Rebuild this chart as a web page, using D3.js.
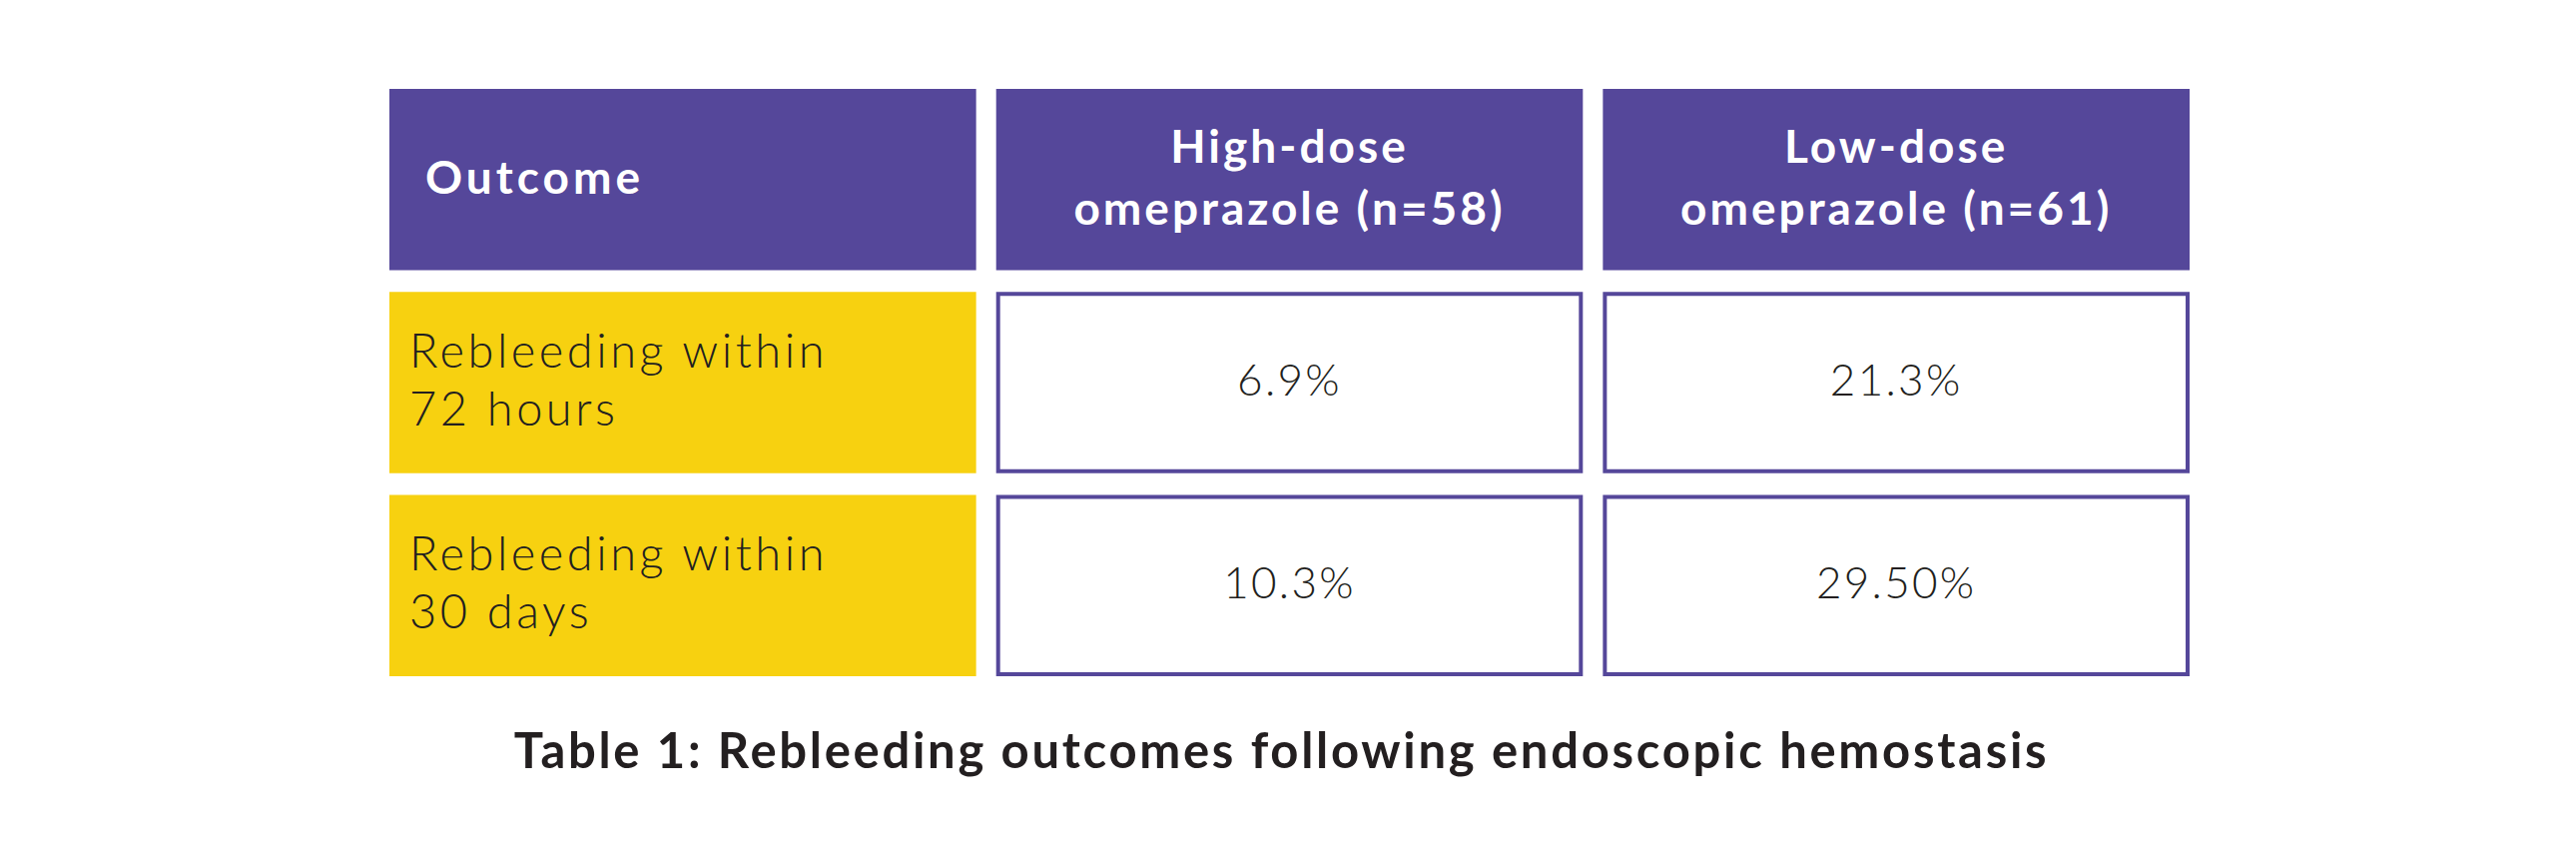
<!DOCTYPE html>
<html>
<head>
<meta charset="utf-8">
<script src="https://cdn.jsdelivr.net/npm/d3@7"></script>
<style>
  html, body { margin: 0; padding: 0; background: #fff; }
  svg { display: block; }
</style>
</head>
<body>
<script>
// Table content
let columns = ["Outcome", "High-dose\nomeprazole (n=58)", "Low-dose\nomeprazole (n=61)"];
let rowLabels = ["Rebleeding within\n72 hours", "Rebleeding within\n30 days"];
let highDose = ["6.9%", "10.3%"];
let lowDose = ["21.3%", "29.50%"];
let caption = "Table 1: Rebleeding outcomes following endoscopic hemostasis";

let W = 2580, H = 869;
let purple = "#55479a", yellow = "#f7d110", ink = "#231f20";
let font = "Lato, 'Noto Sans', sans-serif";

let svg = d3.select("body").append("svg")
  .attr("width", W)
  .attr("height", H);

// Column and row bands
let x = d3.scaleBand()
  .domain(d3.range(columns.length))
  .range([390, 2193])
  .paddingInner(0.033);

let rows = ["header"].concat(rowLabels.map((d, i) => "r" + i));
let y = d3.scaleBand()
  .domain(rows)
  .range([89, 677])
  .paddingInner(0.107);

// helper for multi-line text
function lines(sel, txt, lh) {
  let parts = txt.split("\n");
  sel.selectAll("tspan").data(parts).enter().append("tspan")
    .attr("x", sel.attr("x"))
    .attr("dy", (d, i) => i === 0 ? (-(parts.length - 1) / 2 * lh) + "px" : lh + "px")
    .text(d => d);
}

// Header row
let head = svg.append("g").selectAll("g")
  .data(columns).enter().append("g");

head.append("rect")
  .attr("x", (d, i) => x(i))
  .attr("y", y("header"))
  .attr("width", x.bandwidth())
  .attr("height", y.bandwidth())
  .attr("fill", purple);

head.append("text")
  .attr("x", (d, i) => i === 0 ? x(i) + 36 : x(i) + x.bandwidth() / 2)
  .attr("y", y("header") + y.bandwidth() / 2 - 4)
  .attr("text-anchor", (d, i) => i === 0 ? "start" : "middle")
  .attr("dominant-baseline", "central")
  .attr("fill", "#fff")
  .attr("font-family", font)
  .attr("font-weight", 700)
  .attr("font-size", 46)
  .attr("letter-spacing", (d, i) => i === 0 ? 4 : 3)
  .each(function(d) { lines(d3.select(this), d, 62); });

// Body rows
let body = rowLabels.map((label, i) => ({ label: label, cells: [highDose[i], lowDose[i]], key: "r" + i }));

let row = svg.append("g").selectAll("g")
  .data(body).enter().append("g");

row.append("rect")
  .attr("x", x(0))
  .attr("y", d => y(d.key))
  .attr("width", x.bandwidth())
  .attr("height", y.bandwidth())
  .attr("fill", yellow);

row.append("text")
  .attr("x", x(0) + 20)
  .attr("y", d => y(d.key) + y.bandwidth() / 2 - 4)
  .attr("dominant-baseline", "central")
  .attr("fill", ink)
  .attr("font-family", font)
  .attr("font-weight", 300)
  .attr("font-size", 47)
  .attr("letter-spacing", 3.5)
  .each(function(d) { lines(d3.select(this), d.label, 58); });

row.selectAll("rect.cell")
  .data(d => d.cells.map((v, j) => ({ v: v, col: j + 1, key: d.key })))
  .enter().append("rect")
  .attr("class", "cell")
  .attr("x", d => x(d.col) + 2)
  .attr("y", d => y(d.key) + 2)
  .attr("width", x.bandwidth() - 4)
  .attr("height", y.bandwidth() - 4)
  .attr("fill", "#fff")
  .attr("stroke", purple)
  .attr("stroke-width", 4);

row.selectAll("text.val")
  .data(d => d.cells.map((v, j) => ({ v: v, col: j + 1, key: d.key })))
  .enter().append("text")
  .attr("class", "val")
  .attr("x", d => x(d.col) + x.bandwidth() / 2)
  .attr("y", d => y(d.key) + y.bandwidth() / 2 - 4)
  .attr("text-anchor", "middle")
  .attr("dominant-baseline", "central")
  .attr("fill", ink)
  .attr("font-family", font)
  .attr("font-weight", 300)
  .attr("font-size", 44)
  .attr("letter-spacing", 2.3)
  .text(d => d.v);

// Caption
svg.append("text")
  .attr("x", (390 + 2193) / 2 - 8)
  .attr("y", 750)
  .attr("text-anchor", "middle")
  .attr("dominant-baseline", "central")
  .attr("fill", ink)
  .attr("font-family", font)
  .attr("font-weight", 700)
  .attr("font-size", 49)
  .attr("letter-spacing", 2.7)
  .text(caption);
</script>
</body>
</html>
